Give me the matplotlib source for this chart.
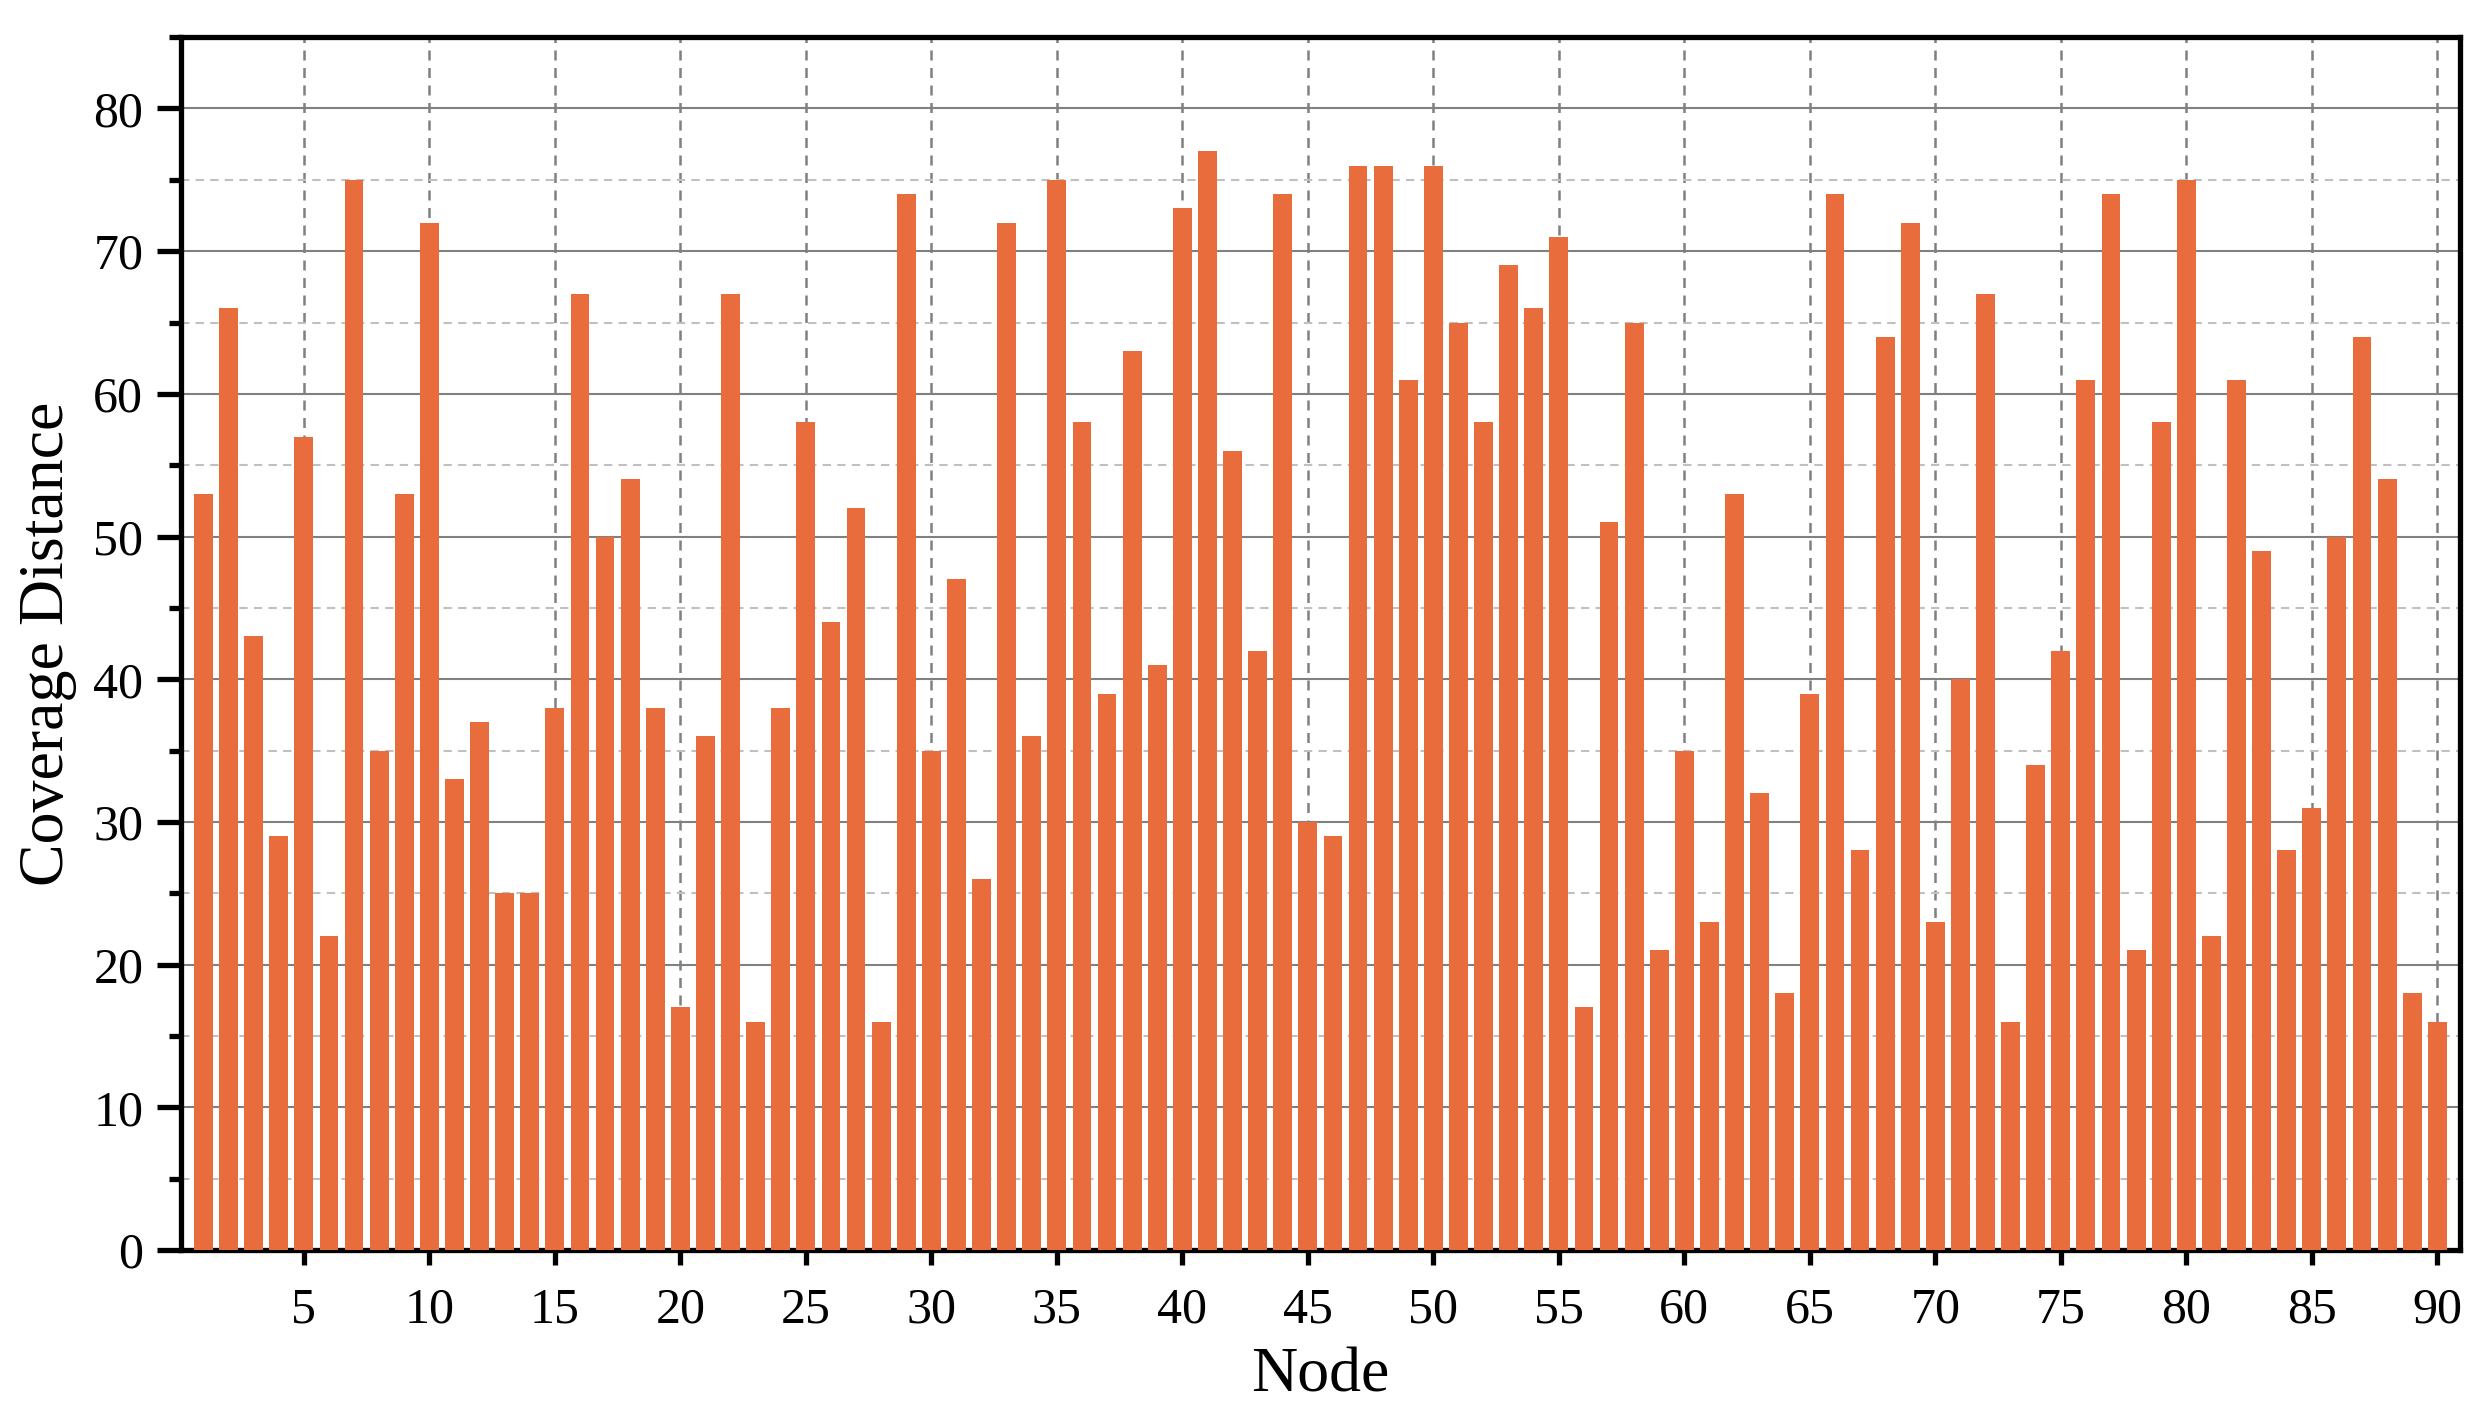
import numpy as np
import matplotlib
matplotlib.use('agg')
from matplotlib import pyplot as plt
from matplotlib.ticker import MultipleLocator

# coverage distance for each node
nodes = np.arange(1, 91)
coverage = [53, 66, 43, 29, 57, 22, 75, 35, 53, 72,
            33, 37, 25, 25, 38, 67, 50, 54, 38, 17,
            36, 67, 16, 38, 58, 44, 52, 16, 74, 35,
            47, 26, 72, 36, 75, 58, 39, 63, 41, 73,
            77, 56, 42, 74, 30, 29, 76, 76, 61, 76,
            65, 58, 69, 66, 71, 17, 51, 65, 21, 35,
            23, 53, 32, 18, 39, 74, 28, 64, 72, 23,
            40, 67, 16, 34, 42, 61, 74, 21, 58, 75,
            22, 61, 49, 28, 31, 50, 64, 54, 18, 16]

x_ticks = np.arange(5, 95, 5)
bar_color = '#E96C3C'

plt.rcParams['font.family'] = ['Liberation Serif', 'DejaVu Serif']

fig = plt.figure(figsize=(12.44, 7.135), dpi=200)
ax = fig.add_axes([0.0728, 0.124, 0.9159, 0.850])

ax.bar(nodes, coverage, width=0.75, color=bar_color, zorder=3)

ax.set_xlim(0.11, 90.9)
ax.set_ylim(0, 85)
ax.set_xticks(x_ticks)
ax.yaxis.set_major_locator(MultipleLocator(10))
ax.yaxis.set_minor_locator(MultipleLocator(5))

# grid: solid major, dashed minor on y; dashed on x
ax.set_axisbelow(True)
ax.grid(True, axis='y', which='major', color='#808080', linestyle='-', linewidth=0.75)
ax.grid(True, axis='y', which='minor', color='#c0c0c0', linestyle=(0, (4, 3)), linewidth=0.75)
ax.grid(True, axis='x', which='major', color='#808080', linestyle=(0, (4, 3)), linewidth=0.9)

for sp in ax.spines.values():
    sp.set_linewidth(1.9)
    sp.set_color('black')

ax.tick_params(axis='y', which='major', direction='out', length=8.6, width=1.9,
               labelsize=18, pad=5)
ax.tick_params(axis='y', which='minor', direction='out', length=4.3, width=1.9)
ax.tick_params(axis='x', which='major', direction='out', length=5.4, width=1.9,
               labelsize=18, pad=8)

ax.set_xlabel('Node', fontsize=23, labelpad=5)
ax.set_ylabel('Coverage Distance', fontsize=23, labelpad=6)

fig.savefig('out.png', dpi=200)
